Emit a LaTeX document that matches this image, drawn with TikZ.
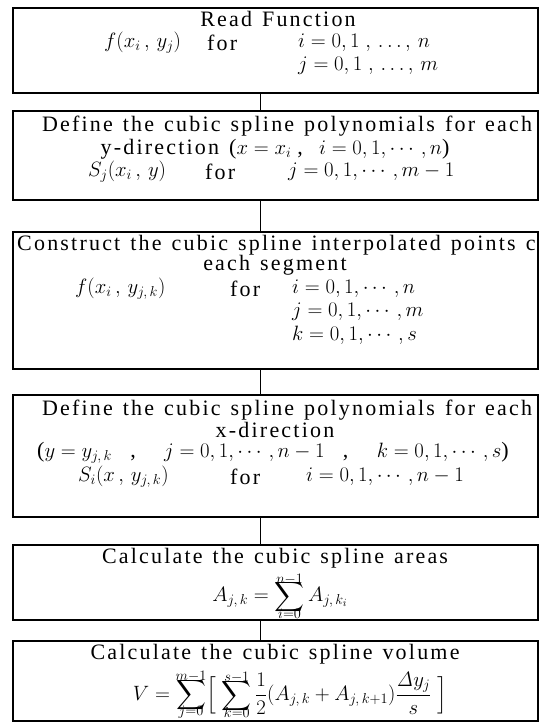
\documentclass[tikz,border=0pt]{standalone}
\usepackage{amsmath}
\usepackage[no-math]{fontspec}
\setmainfont{Liberation Serif}[LetterSpace=10,WordSpace=1.3]
\newcommand{\tightsum}[2]{\mathop{\vcenter{\offinterlineskip\halign{\hfil##\hfil\cr$\scriptstyle #2$\cr\noalign{\kern-4pt}$\displaystyle\sum$\cr\noalign{\kern-5pt}$\scriptstyle #1$\cr}}}}
\begin{document}
\begin{tikzpicture}[x=1pt,y=-1pt,
  boxst/.style={draw,line width=1.1pt,inner sep=0pt,minimum width=525pt},
  txt/.style={inner sep=0pt,font=\fontsize{22}{24}\selectfont},
  link/.style={line width=0.8pt}]
\useasboundingbox (0,0) rectangle (544,727);
% boxes (x from 13 to 538)
\node[boxst,minimum height=85pt] (b1) at (275.5,50.5) {};
\node[boxst,minimum height=89pt] (b2) at (275.5,155.5) {};
\node[boxst,minimum height=137pt] (b3) at (275.5,300.5) {};
\node[boxst,minimum height=122pt] (b4) at (275.5,456) {};
\node[boxst,minimum height=75pt] (b5) at (275.5,582.5) {};
\node[boxst,minimum height=80pt] (b6) at (275.5,681) {};
% connectors
\foreach \a/\b in {b1/b2,b2/b3,b3/b4,b4/b5,b5/b6}
  \draw[link] (\a.south -| 260,0) -- (\b.north -| 260,0);
% box 1
\node[txt] (t11) at (278,19) {Read Function};
\node[txt,anchor=west] (t12) at (104,43) {$f(x_i\,,\,y_j)$};
\node[txt,anchor=west] (t13) at (207,43) {for};
\node[txt,anchor=west] (t14) at (298,43) {$i = 0,1\;,\,\ldots,\,n$};
\node[txt,anchor=west] (t15) at (298,66) {$j = 0,1\;,\,\ldots,\,m$};
% box 2
\node[txt] (t21) at (287,126) {Define the cubic spline polynomials for each};
\node[txt] (t22) at (275,149) {y-direction ($x = x_i$\;,\; $i = 0,1,\cdots,n$)};
\node[txt,anchor=west] (t23) at (88,172) {$S_j(x_i\,,\,y)$};
\node[txt,anchor=west] (t24) at (205,172) {for};
\node[txt,anchor=west] (t25) at (288,172) {$j = 0,1,\cdots,m-1$};
% box 3
\begin{scope}
\clip (b3.south west) rectangle (b3.north east);
\node[txt,anchor=west] (t31) at (17,245) {Construct the cubic spline interpolated points c};
\end{scope}
\node[txt] (t32) at (275,265) {each segment};
\node[txt,anchor=west] (t33) at (75,289) {$f(x_i\,,\,y_{j,\,k})$};
\node[txt,anchor=west] (t34) at (230,289) {for};
\node[txt,anchor=west] (t35) at (292,289) {$i = 0,1,\cdots,n$};
\node[txt,anchor=west] (t36) at (292,312) {$j = 0,1,\cdots,m$};
\node[txt,anchor=west] (t37) at (292,335) {$k = 0,1,\cdots,s$};
% box 4
\node[txt] (t41) at (287,410) {Define the cubic spline polynomials for each};
\node[txt] (t42) at (275,430) {x-direction};
\node[txt] (t43) at (273,453) {($y = y_{j,\,k}$\;\;\;,\;\;\; $j = 0,1,\cdots,n-1$\;\;\;,\;\;\; $k = 0,1,\cdots,s$)};
\node[txt,anchor=west] (t44) at (78,477) {$S_i(x\,,\,y_{j,\,k})$};
\node[txt,anchor=west] (t45) at (230,477) {for};
\node[txt,anchor=west] (t46) at (306,477) {$i = 0,1,\cdots,n-1$};
% box 5
\node[txt] (t51) at (275,558) {Calculate the cubic spline areas};
\node[txt] (t52) at (280,596) {$A_{j,\,k} = \tightsum{i=0}{n-1} A_{j,\,k_i}$};
% box 6
\node[txt] (t61) at (275,654) {Calculate the cubic spline volume};
\node[txt] (t62) at (290,695) {$V = \tightsum{j=0}{m-1}\Bigl[\;\tightsum{k=0}{s-1}\dfrac{1}{2}(A_{j,\,k}+A_{j,\,k+1})\dfrac{\mathit{\Delta} y_j}{s}\;\Bigr]$};
\end{tikzpicture}
\end{document}
